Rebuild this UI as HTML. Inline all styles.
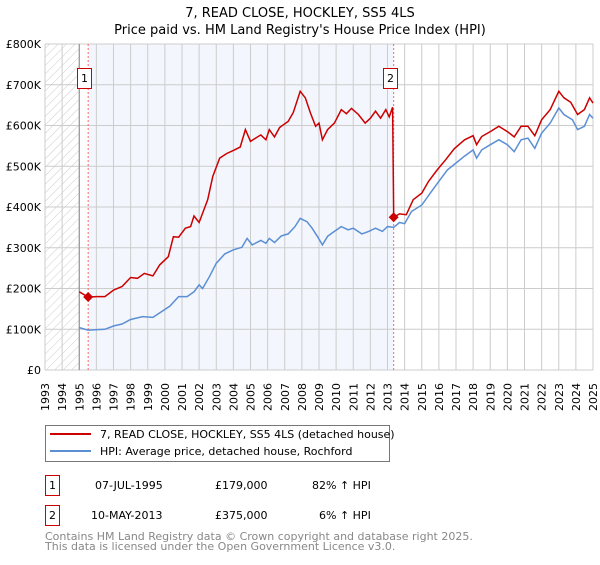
<!DOCTYPE html>
<html><head><meta charset="utf-8"><style>
body{margin:0;background:#fff}
svg{font-family:"DejaVu Sans","Liberation Sans",sans-serif}
</style></head><body>
<svg id="c" width="600" height="560" viewBox="0 0 600 560">
<defs><pattern id="hatch" width="6" height="6" patternUnits="userSpaceOnUse" patternTransform="rotate(45)"><line x1="0" y1="0" x2="0" y2="6" stroke="#ccc" stroke-width="1"/></pattern></defs>
<text x="300" y="17" text-anchor="middle" font-size="13">7, READ CLOSE, HOCKLEY, SS5 4LS</text>
<text x="300" y="34" text-anchor="middle" font-size="13">Price paid vs. HM Land Registry's House Price Index (HPI)</text>
<g id="plot"></g>
<g>
<rect x="45.5" y="425.5" width="344" height="36" fill="#fff" stroke="#777"/>
<line x1="50" y1="434" x2="91" y2="434" stroke="#cc0000" stroke-width="2"/>
<text x="100" y="438" font-size="11">7, READ CLOSE, HOCKLEY, SS5 4LS (detached house)</text>
<line x1="50" y1="451" x2="91" y2="451" stroke="#5b8fd4" stroke-width="2"/>
<text x="100" y="455" font-size="11">HPI: Average price, detached house, Rochford</text>
</g>
<g font-size="11">
<rect x="45.5" y="475.5" width="14" height="20" fill="#fff" stroke="#cc0000"/>
<text x="52.5" y="489" text-anchor="middle">1</text>
<text x="95" y="489">07-JUL-1995</text><text x="215" y="489">£179,000</text><text x="312" y="489">82% ↑ HPI</text>
<rect x="45.5" y="505.5" width="14" height="20" fill="#fff" stroke="#cc0000"/>
<text x="52.5" y="519" text-anchor="middle">2</text>
<text x="91" y="519">10-MAY-2013</text><text x="215" y="519">£375,000</text><text x="319" y="519">6% ↑ HPI</text>
</g>
<text x="45" y="540" font-size="11" fill="#888">Contains HM Land Registry data © Crown copyright and database right 2025.</text>
<text x="45" y="550" font-size="11" fill="#888">This data is licensed under the Open Government Licence v3.0.</text>
</svg>
<script>
const yTicks=[0,100000,200000,300000,400000,500000,600000,700000,800000];
const yTickLabels=["£0","£100K","£200K","£300K","£400K","£500K","£600K","£700K","£800K"];
const years=[1993,1994,1995,1996,1997,1998,1999,2000,2001,2002,2003,2004,2005,2006,2007,2008,2009,2010,2011,2012,2013,2014,2015,2016,2017,2018,2019,2020,2021,2022,2023,2024,2025];
const hpiDates=[1995.0,1995.5,1996.5,1997,1997.5,1998,1998.7,1999.3,1999.8,2000.3,2000.8,2001.3,2001.7,2002,2002.2,2002.6,2003,2003.5,2004,2004.5,2004.8,2005.1,2005.6,2005.9,2006.1,2006.4,2006.8,2007.2,2007.6,2007.9,2008.3,2008.6,2008.9,2009.2,2009.5,2009.9,2010.3,2010.7,2011,2011.5,2011.9,2012.3,2012.7,2013.0,2013.36,2013.7,2014.0,2014.4,2015,2015.5,2016,2016.5,2017,2017.5,2018,2018.2,2018.5,2019,2019.5,2020,2020.4,2020.8,2021.2,2021.6,2022,2022.5,2023,2023.3,2023.8,2024.1,2024.5,2024.8,2025];
const hpiValues=[104,98,100,108,113,124,131,129,143,157,180,180,192,209,200,229,262,285,295,301,323,307,318,311,323,313,329,334,352,372,364,348,328,307,328,340,352,344,348,334,340,348,340,352,350,362,359,389,405,434,463,491,508,525,540,520,540,553,565,553,536,565,569,544,581,606,643,627,614,590,598,627,618];
const priceDates=[1995.0,1995.52,1996,1996.5,1997,1997.5,1998,1998.4,1998.8,1999.3,1999.7,2000.2,2000.5,2000.8,2001.2,2001.5,2001.7,2002,2002.5,2002.8,2003.2,2003.6,2004,2004.4,2004.7,2005,2005.3,2005.6,2005.9,2006.1,2006.4,2006.7,2007.2,2007.5,2007.9,2008.2,2008.5,2008.8,2009.0,2009.2,2009.5,2009.9,2010.3,2010.6,2010.9,2011.3,2011.7,2012,2012.3,2012.6,2012.9,2013.1,2013.3,2013.36,2013.7,2014.1,2014.5,2015,2015.4,2015.9,2016.4,2016.9,2017.5,2018,2018.2,2018.5,2019,2019.5,2020,2020.4,2020.8,2021.2,2021.6,2022,2022.5,2023,2023.3,2023.7,2024.1,2024.5,2024.8,2025];
const priceValues=[192,179,180,180,196,205,227,225,237,231,258,278,327,326,348,352,378,362,418,475,520,531,539,547,590,561,569,577,565,590,572,595,610,632,684,668,631,598,606,565,590,606,639,629,642,627,606,618,635,618,639,621,645,375,383,381,418,434,463,491,516,543,565,575,553,573,585,598,585,572,598,598,575,614,639,684,668,657,627,639,668,655];
const saleDates=[1995.52,2013.36];
const saleValues=[179000,375000];
const saleLabels=["1","2"];
const NS="http://www.w3.org/2000/svg";
const L=45,R=593,T=44,B=370;
const x=d=>L+(d-1993)*(R-L)/32;
const y=v=>B-v*(B-T)/800000;
const g=document.getElementById('plot');
function mk(t,a){const e=document.createElementNS(NS,t);for(const k in a)e.setAttribute(k,a[k]);g.appendChild(e);return e;}
let e;
e=mk('rect',{x:L,y:T,width:R-L,height:B-T,fill:'#fff'});


e=mk('rect',{x:L,y:T,width:x(1995)-L,height:B-T,fill:'url(#hatch)'});


e=mk('rect',{x:x(saleDates[0]),y:T,width:x(saleDates[1])-x(saleDates[0]),height:B-T,fill:'#f3f6fd'});


years.forEach(yr=>{e=mk('line',{x1:x(yr),x2:x(yr),y1:T,y2:B,stroke:'#ccc','stroke-width':1});


e=mk('text',{x:0,y:0,'font-size':11,'text-anchor':'end',transform:`translate(${x(yr)+4},383) rotate(-90)`});e.textContent=yr;

});
yTicks.forEach((v,i)=>{e=mk('line',{x1:L,x2:R,y1:y(v),y2:y(v),stroke:'#ccc','stroke-width':1});


e=mk('text',{x:L-4,y:y(v)+4,'font-size':11,'text-anchor':'end'});e.textContent=yTickLabels[i];

});
e=mk('line',{x1:x(1995),x2:x(1995),y1:T,y2:B,stroke:'#888','stroke-width':1});


saleDates.forEach((d,i)=>{e=mk('line',{x1:x(d),x2:x(d),y1:T,y2:B,stroke:'#f66','stroke-width':1,'stroke-dasharray':'2,2'});

});
const pts=(ds,vs)=>ds.map((d,i)=>x(d).toFixed(1)+','+y(vs[i]*1000).toFixed(1)).join(' ');
e=mk('polyline',{points:pts(hpiDates,hpiValues),fill:'none',stroke:'#5b8fd4','stroke-width':1.5});


e=mk('polyline',{points:pts(priceDates,priceValues),fill:'none',stroke:'#cc0000','stroke-width':1.5});


saleDates.forEach((d,i)=>{const cx=x(d),cy=y(saleValues[i]);
e=mk('polygon',{points:`${cx},${cy-5} ${cx+5},${cy} ${cx},${cy+5} ${cx-5},${cy}`,fill:'#cc0000'});


e=mk('rect',{x:Math.round(cx-11)+0.5,y:68.5,width:14,height:20,fill:'#fff',stroke:'#cc0000'});


e=mk('text',{x:Math.round(cx-11)+7.5,y:82,'font-size':11,'text-anchor':'middle'});e.textContent=saleLabels[i];

});
</script>
</body></html>
